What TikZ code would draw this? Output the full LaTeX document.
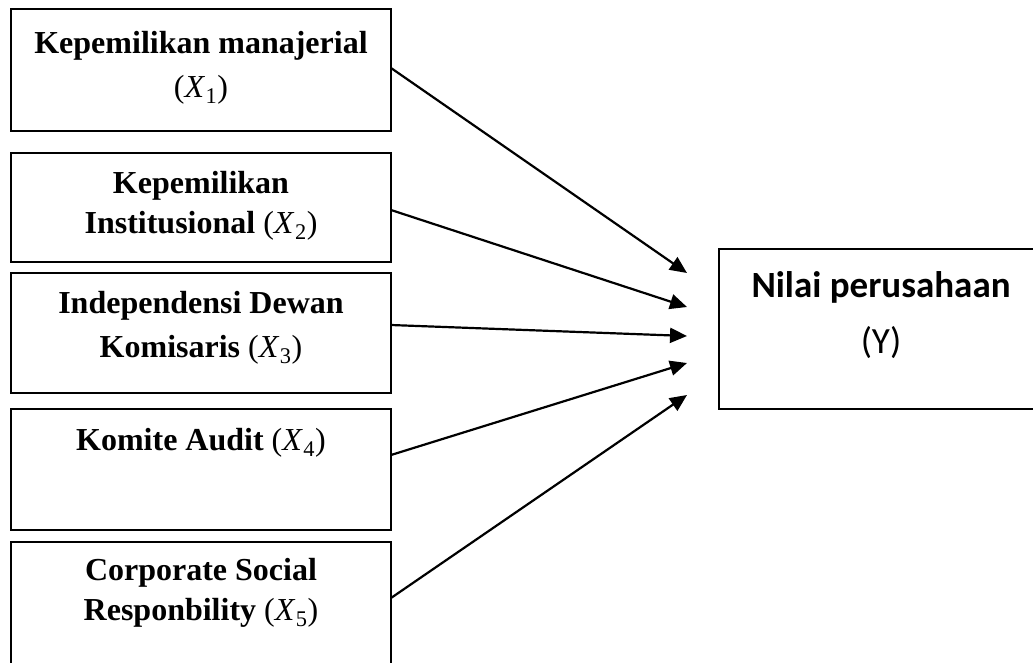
\documentclass[tikz,border=0pt]{standalone}
\usepackage{fontspec}
\setmainfont{Liberation Serif}
\newfontfamily\calfont{Carlito}
\usetikzlibrary{arrows.meta}
\newcommand{\varx}[1]{\textmd{(\textit{X}\kern0.5pt\textsubscript{#1})}}
\begin{document}
\begin{tikzpicture}[x=1pt,y=-1pt,
  box/.style={draw, line width=1.6pt, minimum width=380pt, anchor=north west, inner sep=0pt, outer sep=0pt},
  lbl/.style={anchor=base, font=\fontsize{32}{38}\selectfont\bfseries, inner sep=0pt},
  ylbl/.style={anchor=base, font=\fontsize{37}{44}\selectfont\calfont, inner sep=0pt},
  arr/.style={line width=2.2pt, -{Triangle[length=17pt,width=15pt]}}]
\useasboundingbox (0,0) rectangle (1033,662);
\clip (0,0) rectangle (1033,662);
% left boxes
\node[box, minimum height=122pt] (b1) at (11,9) {};
\node[box, minimum height=109pt] (b2) at (11,153) {};
\node[box, minimum height=120pt] (b3) at (11,273) {};
\node[box, minimum height=121pt] (b4) at (11,409) {};
\node[box, minimum height=122pt] (b5) at (11,542) {};
% labels
\node[lbl] (l1a) at (201,53) {Kepemilikan manajerial};
\node[lbl] (l1b) at (201,97) {\varx{1}};
\node[lbl] (l2a) at (201,193) {Kepemilikan};
\node[lbl] (l2b) at (201,233) {Institusional \varx{2}};
\node[lbl] (l3a) at (201,313) {Independensi Dewan};
\node[lbl] (l3b) at (201,357) {Komisaris \varx{3}};
\node[lbl] (l4a) at (201,450) {Komite Audit \varx{4}};
\node[lbl] (l5a) at (201,580) {Corporate Social};
\node[lbl] (l5b) at (201,620) {Responbility \varx{5}};
% right box
\node[box, minimum width=340pt, minimum height=160pt] (y) at (719,249) {};
\node[ylbl] (ya) at (881,297) {\bfseries Nilai perusahaan};
\node[ylbl] (yb) at (881,353) {(Y)};
% arrow tips
\coordinate (t1) at (687,273);
\coordinate (t2) at (687,307);
\coordinate (t3) at (687,336);
\coordinate (t4) at (687,363);
\coordinate (t5) at (687,395);
\draw[arr] ([yshift=2pt]b1.east) -- (t1);
\draw[arr] ([yshift=-2.5pt]b2.east) -- (t2);
\draw[arr] ([yshift=8pt]b3.east) -- (t3);
\draw[arr] ([yshift=14.5pt]b4.east) -- (t4);
\draw[arr] ([yshift=5pt]b5.east) -- (t5);
\end{tikzpicture}
\end{document}
